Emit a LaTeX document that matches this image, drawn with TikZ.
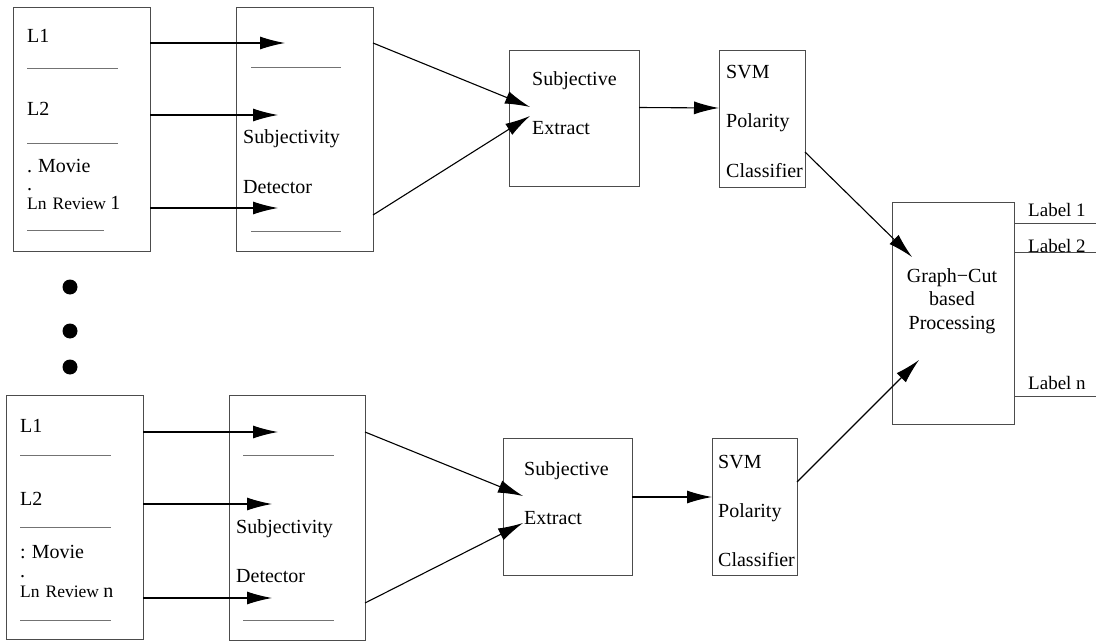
\documentclass[tikz,border=0pt]{standalone}
\usepackage{fontspec}
\setmainfont{Liberation Serif}
\usetikzlibrary{arrows.meta}
\begin{document}
\begin{tikzpicture}[x=1pt,y=-1pt,>={Latex[length=25pt,width=13pt]},
  box/.style={draw=black!70,line width=0.8pt,inner sep=0pt,outer sep=0pt},
  txt/.style={anchor=base west,inner sep=0pt,font=\fontsize{20}{24}\selectfont},
  lsmall/.style={anchor=base west,inner sep=0pt,font=\fontsize{19}{22}\selectfont},
  lsmaller/.style={anchor=base west,inner sep=0pt,font=\fontsize{17.5}{20}\selectfont},
  rule/.style={draw=black!55,line width=0.8pt},
  arr/.style={->,line width=1.1pt},
  dot/.style={circle,fill=black,inner sep=0pt,minimum size=15pt}]
\useasboundingbox (0,0) rectangle (1096,642);

% upper chain
\node[box,minimum width=137,minimum height=244] (rev1) at (81.5,129) {};
\node[box,minimum width=137,minimum height=244] (det1) at (304.5,129) {};
\node[box,minimum width=130,minimum height=136] (ext1) at (574,118) {};
\node[box,minimum width=86,minimum height=137] (svm1) at (762,118.5) {};

\node[txt] (l11) at (27,43) {L1};
\node[txt] (l12) at (27,116) {L2};
\node[txt] (m1) at (27,172) {.\hspace{6pt}Movie};
\node[txt] (p1) at (27,190) {.};
\node[lsmaller] (r1) at (27,209) {Ln\hspace{6pt}Review \fontsize{20}{24}\selectfont 1};
\foreach \y/\x in {68/118,143/118,230/104}
  \draw[rule] (27,\y)--(\x,\y);
\foreach \y in {67,231}
  \draw[rule] (251,\y)--(341,\y);
\node[txt] (s1) at (243,143) {Subjectivity};
\node[txt] (dd1) at (243,193) {Detector};
\node[txt] (se1) at (532,86) {Subjective};
\node[txt] (ex1) at (532,135) {Extract};
\node[txt] (v1) at (726,78) {SVM};
\node[txt] (po1) at (726,128) {Polarity};
\node[txt] (c1) at (726,177) {Classifier};

% dots
\node[dot] (d1) at (70,287) {};
\node[dot] (d2) at (70,331) {};
\node[dot] (d3) at (70,367) {};

% lower chain
\node[box,minimum width=137,minimum height=244] (rev2) at (74.5,517) {};
\node[box,minimum width=136,minimum height=245] (det2) at (297,517.5) {};
\node[box,minimum width=129,minimum height=137] (ext2) at (567.5,506.5) {};
\node[box,minimum width=85,minimum height=137] (svm2) at (754.5,506.5) {};

\node[txt] (l21) at (20,432) {L1};
\node[txt] (l22) at (20,505) {L2};
\node[txt] (m2) at (20,558) {:\hspace{6pt}Movie};
\node[txt] (p2) at (20,577) {.};
\node[lsmaller] (r2) at (20,597) {Ln\hspace{6pt}Review \fontsize{20}{24}\selectfont n};
\foreach \y in {455,527,620}
  \draw[rule] (20,\y)--(111,\y);
\foreach \y in {455,620}
  \draw[rule] (243,\y)--(334,\y);
\node[txt] (s2) at (236,533) {Subjectivity};
\node[txt] (dd2) at (236,582) {Detector};
\node[txt] (se2) at (524,475) {Subjective};
\node[txt] (ex2) at (524,524) {Extract};
\node[txt] (v2) at (718,468) {SVM};
\node[txt] (po2) at (718,517) {Polarity};
\node[txt] (c2) at (718,566) {Classifier};

% graph cut
\node[box,minimum width=122,minimum height=222] (graph) at (953,313) {};
\foreach \t/\y/\n in {Graph−Cut/282/1,based/305/2,Processing/329/3}
  \node[font=\fontsize{20}{24}\selectfont,anchor=base,inner sep=0pt] (gt\n) at (952,\y) {\t};
\coordinate (edge) at (1096,0);
\foreach \s/\n in {90/1,61/2,-83/n}
{
  \coordinate (o\n) at ([yshift=\s pt]graph.east);
  \draw[line width=0.8pt,black!70] (o\n)--(o\n -| edge);
}
\node[lsmall] (lb1) at (1028,216) {Label 1};
\node[lsmall] (lb2) at (1028,252) {Label 2};
\node[lsmall] (lbn) at (1028,389) {Label n};

% arrows
\coordinate (a11) at (285,43);
\coordinate (a12) at (278,115);
\coordinate (a13) at (278,208);
\foreach \a in {a11,a12,a13}
  \draw[arr] (rev1.east |- \a)--(\a);
\coordinate (a21) at (278,432);
\coordinate (a22) at (272,504);
\coordinate (a23) at (272,598);
\foreach \a in {a21,a22,a23}
  \draw[arr] (rev2.east |- \a)--(\a);

\coordinate (b11) at (530,107);
\coordinate (b12) at (530,116);
\draw[arr] (det1.east |- a11)--(b11);
\draw[arr] ([yshift=-86pt]det1.east)--(b12);
\coordinate (b21) at (523,496);
\coordinate (b22) at (523,523);
\draw[arr] ([yshift=85.5pt]det2.east)--(b21);
\draw[arr] ([yshift=-85.5pt]det2.east)--(b22);

\draw[arr] ([yshift=10.5pt]ext1.east)--([yshift=10.5pt]svm1.west);
\draw[arr] ([yshift=9.5pt]ext2.east)--([yshift=9.5pt]svm2.west);

\coordinate (g1) at (912,257);
\coordinate (g2) at (919,360);
\draw[arr] ([yshift=-33.5pt]svm1.east)--(g1);
\draw[arr] ([yshift=24.5pt]svm2.east)--(g2);
\end{tikzpicture}
\end{document}
